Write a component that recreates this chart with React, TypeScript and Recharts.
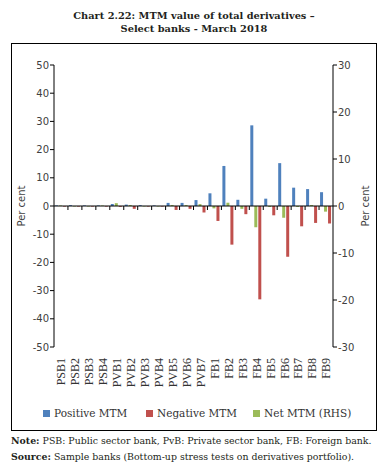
import React from 'react';
import { BarChart, Bar, XAxis, YAxis, ReferenceLine } from 'recharts';

const banks = [
  'PSB1', 'PSB2', 'PSB3', 'PSB4', 'PVB1', 'PVB2', 'PVB3', 'PVB4', 'PVB5', 'PVB6', 'PVB7',
  'FB1', 'FB2', 'FB3', 'FB4', 'FB5', 'FB6', 'FB7', 'FB8', 'FB9',
];
const positiveMtm = [0.2, 0.3, 0.2, 0.2, 0.7, 0.5, 0.3, 0.2, 1.1, 1.1, 2.1, 4.5, 14.2, 2.2, 28.6, 2.6, 15.2, 6.5, 6.0, 4.9];
const negativeMtm = [-0.2, -0.2, -0.2, -0.2, -0.3, -1.0, -0.2, -0.2, -1.4, -1.0, -2.3, -5.3, -13.7, -2.9, -33.1, -3.3, -18.0, -7.2, -6.0, -6.2];
const netMtm = [0.1, -0.1, -0.1, 0.1, 0.6, 0.2, -0.1, -0.1, 0.2, 0.2, 0.4, -0.5, 0.7, -0.6, -4.5, -0.2, -2.5, -0.2, 0.2, -1.2];

const leftTicks = [-50, -40, -30, -20, -10, 0, 10, 20, 30, 40, 50];
const rightTicks = [-30, -20, -10, 0, 10, 20, 30];

const BLUE = '#4F81BD';
const RED = '#C0504D';
const GREEN = '#9BBB59';

// plot area in page pixels
const PLOT_TOP = 65;
const PLOT_BOTTOM = 347;
const PLOT_LEFT = 54;
const PLOT_RIGHT = 333;
const ZERO_Y = (PLOT_TOP + PLOT_BOTTOM) / 2;
const BAND = (PLOT_RIGHT - PLOT_LEFT) / banks.length;

const serif = '"Liberation Serif", "Times New Roman", serif';
const wideSerif = '"DejaVu Serif", Cambria, serif';
const sans = '"DejaVu Sans", Verdana, sans-serif';

const data = banks.map((bank, i) => ({
  bank,
  positive: positiveMtm[i],
  negative: negativeMtm[i],
  net: netMtm[i],
}));

function BankTick(props: any) {
  const { x, payload, index } = props;
  return (
    <g>
      {index > 0 && (
        <line x1={x - BAND / 2} x2={x - BAND / 2} y1={ZERO_Y} y2={ZERO_Y + 4} stroke="#000" />
      )}
      <g transform={`translate(${x},${PLOT_BOTTOM + 11})`}>
        <text
          transform="rotate(-90)"
          textAnchor="end"
          dy="0.36em"
          fontFamily={serif}
          fontSize={12}
          fill="#333"
        >
          {payload.value}
        </text>
      </g>
    </g>
  );
}

const legendItems = [
  { label: 'Positive MTM', color: BLUE, left: 43 },
  { label: 'Negative MTM', color: RED, left: 146 },
  { label: 'Net MTM (RHS)', color: GREEN, left: 253 },
];

export default function App() {
  return (
    <div style={{ position: 'absolute', left: 0, top: 0, width: 388, height: 470, background: '#fff' }}>
      <div
        style={{
          position: 'absolute', left: 0, top: 9, width: 388, textAlign: 'center',
          fontFamily: wideSerif, fontWeight: 'bold', fontSize: 9.8, lineHeight: '13px', color: '#231f20',
        }}
      >
        Chart 2.22: MTM value of total derivatives –<br />
        Select banks - March 2018
      </div>
      <div
        style={{
          position: 'absolute', left: 11, top: 43, width: 364, height: 386,
          border: '1px solid #000',
        }}
      />
      <div style={{ position: 'absolute', left: 0, top: 0 }}>
        <BarChart
          width={388}
          height={400}
          data={data}
          margin={{ top: PLOT_TOP, right: 25, left: 24, bottom: 8 }}
          barSize={3}
          barGap={1}
        >
          <XAxis
            dataKey="bank"
            xAxisId="bank"
            height={45}
            axisLine={false}
            tickLine={false}
            tickSize={0}
            tickMargin={0}
            interval={0}
            tick={<BankTick />}
          />
          <YAxis
            yAxisId="left"
            width={30}
            domain={[-50, 50]}
            ticks={leftTicks}
            interval={0}
            axisLine={{ stroke: '#000' }}
            tickLine={{ stroke: '#000' }}
            tickSize={4}
            tickMargin={1}
            tick={{ fontFamily: sans, fontSize: 10, fill: '#404040' }}
          />
          <YAxis
            yAxisId="right"
            orientation="right"
            width={30}
            domain={[-30, 30]}
            ticks={rightTicks}
            interval={0}
            axisLine={{ stroke: '#000' }}
            tickLine={{ stroke: '#000' }}
            tickSize={4}
            tickMargin={1}
            tick={{ fontFamily: sans, fontSize: 10, fill: '#404040' }}
          />
          <Bar dataKey="positive" xAxisId="bank" yAxisId="left" fill={BLUE} isAnimationActive={false} />
          <Bar dataKey="net" xAxisId="bank" yAxisId="right" fill={GREEN} isAnimationActive={false} />
          <Bar dataKey="negative" xAxisId="bank" yAxisId="left" fill={RED} isAnimationActive={false} />
          <ReferenceLine y={0} xAxisId="bank" yAxisId="left" stroke="#000" />
        </BarChart>
      </div>
      <svg style={{ position: 'absolute', left: 0, top: 0 }} width={388} height={470}>
        <text
          transform={`translate(25,${ZERO_Y}) rotate(-90)`}
          textAnchor="middle"
          fontFamily={sans}
          fontSize={10}
          fill="#404040"
        >
          Per cent
        </text>
        <text
          transform={`translate(369,${ZERO_Y}) rotate(-90)`}
          textAnchor="middle"
          fontFamily={sans}
          fontSize={10}
          fill="#404040"
        >
          Per cent
        </text>
      </svg>
      {legendItems.map((item) => (
        <div
          key={item.label}
          style={{
            position: 'absolute', left: item.left, top: 405, height: 16,
            display: 'flex', alignItems: 'center', fontFamily: wideSerif, fontSize: 10.5, color: '#333',
            whiteSpace: 'nowrap',
          }}
        >
          <span style={{ display: 'inline-block', width: 7, height: 7, background: item.color, marginRight: 4 }} />
          {item.label}
        </div>
      ))}
      <div
        style={{
          position: 'absolute', left: 11, top: 433, width: 380, fontFamily: wideSerif, fontSize: 9.4,
          lineHeight: '16px', color: '#231f20', whiteSpace: 'nowrap',
        }}
      >
        <div><b>Note:</b> PSB: Public sector bank, PvB: Private sector bank, FB: Foreign bank.</div>
        <div><b>Source:</b> Sample banks (Bottom-up stress tests on derivatives portfolio).</div>
      </div>
    </div>
  );
}
